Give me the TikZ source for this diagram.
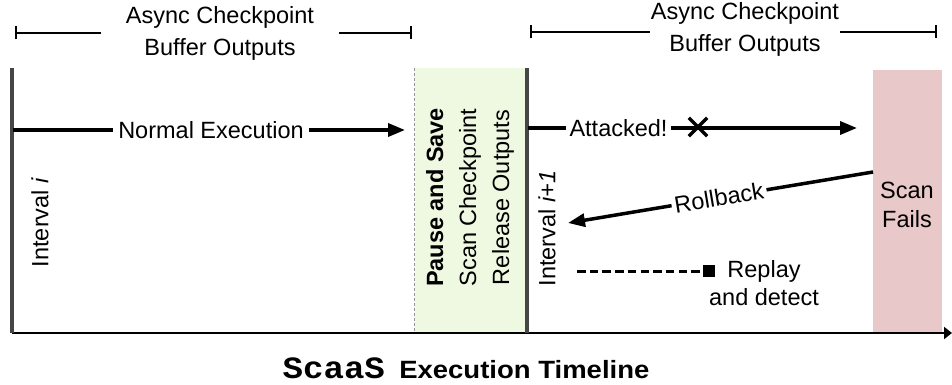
\documentclass[tikz,border=0pt]{standalone}
\usepackage{fontspec}
\usepackage{graphicx}
\setmainfont{Liberation Sans}
\newfontfamily\titlemono{Liberation Mono}
\usetikzlibrary{arrows.meta}
\definecolor{axisgray}{RGB}{70,70,70}
\definecolor{greenfill}{RGB}{239,249,226}
\definecolor{pinkfill}{RGB}{232,200,200}
\definecolor{dashgray}{RGB}{150,150,150}
\begin{document}
\begin{tikzpicture}[x=1pt,y=-1pt,
  lbl/.style={font=\fontsize{23.5}{28}\selectfont, inner sep=0pt, align=center},
  axisline/.style={draw=axisgray, line width=3.5pt},
  arr/.style={line width=3.5pt, -{Triangle[length=17pt,width=13pt]}},
  bracketline/.style={line width=1.6pt, {Bar[width=13pt]}-{Bar[width=13pt]}},
  whitelbl/.style={lbl, fill=white, inner xsep=5pt, inner ysep=0pt},
  xline/.style={line width=3.5pt},
  dashline/.style={line width=3pt, dash pattern=on 8.5pt off 4.2pt}
]
\useasboundingbox (0,0) rectangle (952,385);

% boxes
\node[draw=none, fill=greenfill, minimum width=112pt, minimum height=265pt, inner sep=0pt] (greenbox) at (471,200.5) {};
\draw[dashgray, line width=0.8pt, dash pattern=on 3pt off 2pt] (greenbox.north west) -- (greenbox.south west);
\node[draw=none, fill=pinkfill, minimum width=69pt, minimum height=263pt, inner sep=0pt] (pinkbox) at (907.5,201.5) {};

% axes
\coordinate (ax0) at (12,68);
\coordinate (ax1) at (12,333);
\coordinate (bx1) at (952,333);
\coordinate (mx0) at (527,68);
\coordinate (mx1) at (527,333);
\draw[line width=2.6pt, -{Triangle[length=8pt,width=12pt]}] (ax1) -- (bx1);
\draw[axisline] (ax0) -- (ax1);
\draw[axisline] (mx0) -- (mx1);

% top brackets
\coordinate (bl0) at (15,33);
\coordinate (bl1) at (412,33);
\coordinate (br0) at (530,32);
\coordinate (br1) at (937,32);
\draw[bracketline] (bl0) -- (bl1);
\draw[bracketline] (br0) -- (br1);
\node[lbl, fill=white, inner xsep=25pt, font=\fontsize{23.5}{32}\selectfont] (bltext) at (220,33) {Async Checkpoint\\Buffer Outputs};
\node[lbl, fill=white, inner xsep=1pt, font=\fontsize{23.5}{32}\selectfont] (brtext) at (745,29) {Async Checkpoint\\Buffer Outputs};

% normal execution
\coordinate (ne0) at (13,130);
\coordinate (ne1) at (405,130);
\draw[arr] (ne0) -- (ne1);
\node[whitelbl] (netext) at (211,130) {Normal Execution};

% interval labels
\node[lbl, rotate=90] (int1) at (40,222.5) {Interval \textit{i}};
\node[lbl, rotate=90] (int2) at (547,228.5) {Interval \textit{i+1}};

% green box text
\node[lbl, rotate=90, font=\fontsize{23.5}{33}\selectfont] (gtext) at (470,197.5) {\textbf{Pause and Save}\\Scan Checkpoint\\Release Outputs};

% attacked
\coordinate (at0) at (528,128);
\coordinate (at1) at (857,128);
\draw[arr] (at0) -- (at1);
\node[whitelbl, inner xsep=4pt] (attext) at (618.5,128) {Attacked!};
\node[inner sep=0pt, minimum size=18pt] (xmark) at (698,127) {};
\draw[xline] (xmark.north west) -- (xmark.south east);
\draw[xline] (xmark.south west) -- (xmark.north east);

% scan fails
\node[lbl, font=\fontsize{23.5}{28.5}\selectfont] (sftext) at (907,205) {Scan\\Fails};

% rollback
\coordinate (rb0) at (873,172);
\coordinate (rb1) at (568,223);
\draw[arr] (rb0) -- (rb1);
\node[whitelbl, rotate=9.5, inner xsep=3pt] (rbtext) at (719,197.5) {Rollback};

% replay
\coordinate (rp0) at (577,271);
\node[fill=black, inner sep=0pt, minimum size=12pt] (rpsq) at (709,271) {};
\draw[dashline] (rp0) -- (rpsq.west);
\node[lbl] (rptext) at (764,283) {Replay\\and detect};

% title
\node[inner sep=0pt] (title) at (466,368) {\scalebox{1.1}[1]{{\fontsize{31}{33}\titlemono\bfseries ScaaS}\hspace{13pt}{\fontsize{25}{29}\selectfont\bfseries Execution Timeline}}};
\end{tikzpicture}
\end{document}
